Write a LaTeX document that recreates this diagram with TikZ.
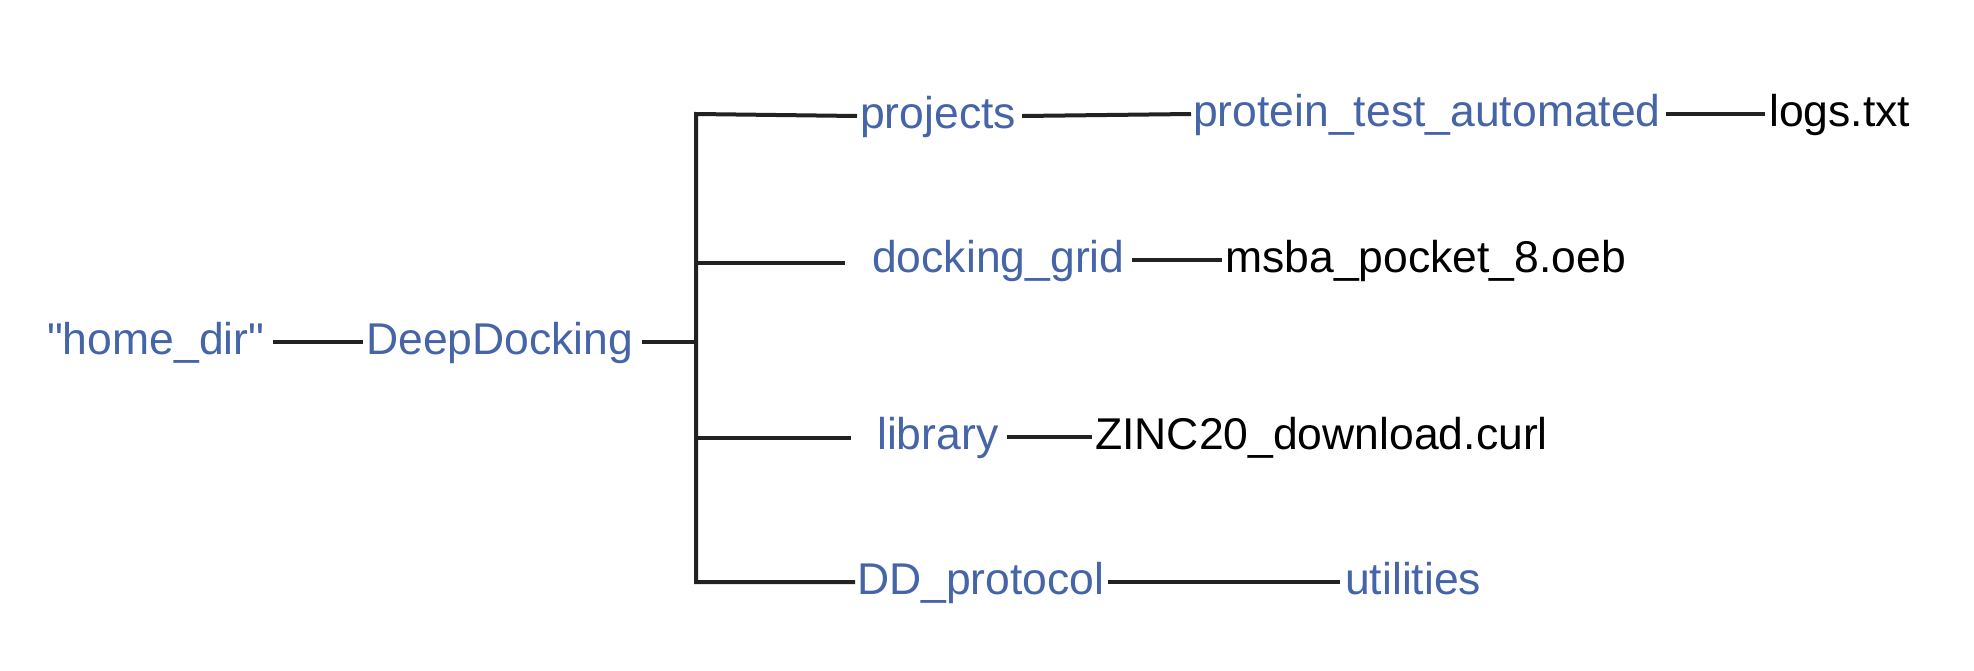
\documentclass[tikz,border=0pt]{standalone}
\usepackage{fontspec}
\setmainfont{Liberation Sans}
\newfontfamily\rawfont{Liberation Sans}
\definecolor{dirblue}{HTML}{4565A8}
\definecolor{linegray}{HTML}{222222}
\begin{document}
\begin{tikzpicture}[x=1pt,y=-1pt,
  lbl/.style={inner sep=0pt, anchor=west, font=\rawfont\fontsize{44.5}{52}\selectfont, text height=33pt, text depth=9pt},
  dir/.style={lbl, text=dirblue},
  file/.style={lbl, text=black},
  conn/.style={draw=linegray, line width=4pt, line join=miter}]
\useasboundingbox[fill=white] (0,0) rectangle (1974,670);
\node[dir]  (home)    at (47,342)   {"home\_dir"};
\node[dir]  (deep)    at (366,342)  {DeepDocking};
\node[dir]  (proj)    at (860,116)  {projects};
\node[dir]  (prot)    at (1193,114) {protein\_test\_automated};
\node[file] (logs)    at (1769,114) {logs.txt};
\node[dir]  (dock)    at (872,260)  {docking\_grid};
\node[file] (msba)    at (1225,260) {msba\_pocket\_8.oeb};
\node[dir]  (lib)     at (877,437)  {library};
\node[file] (zinc)    at (1095,437) {ZINC20\_download.curl};
\node[dir]  (ddp)     at (857,582)  {DD\_protocol};
\node[dir]  (util)    at (1345,582) {utilities};
\coordinate (t1) at (696,114);
\coordinate (t2) at (696,263);
\coordinate (tm) at (696,342);
\coordinate (t3) at (696,438);
\coordinate (t4) at (696,582);
\path[conn] ([xshift=-3pt]proj.west) -- (t1) -- (t4) -- ([xshift=-2pt]ddp.west);
\path[conn] ([xshift=8pt]home.east) -- ([xshift=-3pt]deep.west);
\path[conn] ([xshift=8pt]deep.east) -- (tm);
\path[conn] (t2) -- ([xshift=-27pt]dock.west |- t2);
\path[conn] (t3) -- ([xshift=-26pt]lib.west |- t3);
\path[conn] ([xshift=6pt]proj.east) -- ([xshift=-2pt]prot.west);
\path[conn] ([xshift=5pt]prot.east) -- ([xshift=-4pt]logs.west);
\path[conn] ([xshift=7pt]dock.east) -- ([xshift=-3pt]msba.west);
\path[conn] ([xshift=8pt]lib.east) -- ([xshift=-3pt]zinc.west);
\path[conn] ([xshift=3pt]ddp.east) -- ([xshift=-5pt]util.west);
\end{tikzpicture}
\end{document}
